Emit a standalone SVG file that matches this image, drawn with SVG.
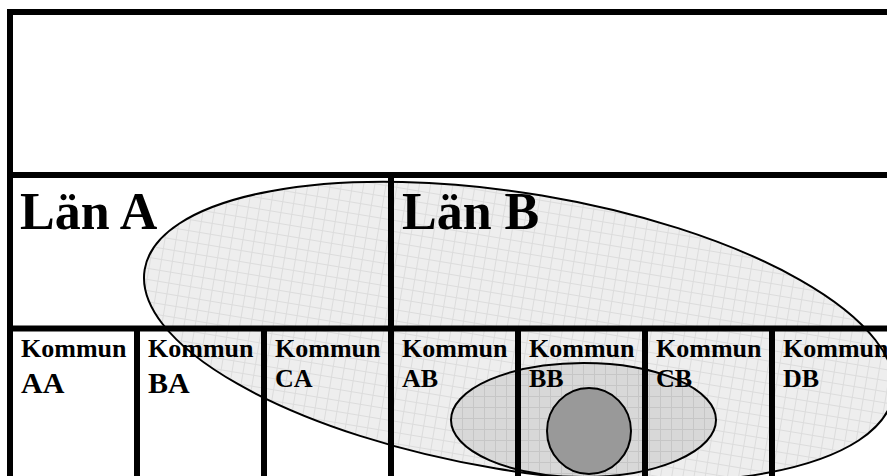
<svg xmlns="http://www.w3.org/2000/svg" width="887" height="476" viewBox="0 0 887 476">
<style>
.ln{stroke:#000;stroke-width:6;fill:none}
.big{font-family:"Liberation Serif","Times New Roman",serif;font-weight:bold;font-size:52px;fill:#000}
.k{font-family:"Liberation Serif","Times New Roman",serif;font-weight:bold;font-size:26px;fill:#000}
.c{font-family:"Liberation Serif","Times New Roman",serif;font-weight:bold;font-size:30px;fill:#000}
.ell{stroke:#000;stroke-width:2}
</style>
<defs>
<pattern id="gridL" patternUnits="userSpaceOnUse" width="11" height="11">
<rect width="11" height="11" fill="#eeeeee"/>
<path d="M0 0.5H11M0.5 0V11" stroke="#dcdcdc" stroke-width="1"/>
</pattern>
<pattern id="gridM" patternUnits="userSpaceOnUse" width="11" height="11">
<rect width="11" height="11" fill="#d8d8d8"/>
<path d="M0 0.5H11M0.5 0V11" stroke="#c6c6c6" stroke-width="1"/>
</pattern>
</defs>
<rect width="887" height="476" fill="#fff"/>
<g id="regions">
<ellipse id="region-large" class="ell" cx="519" cy="332" rx="379.5" ry="138.4" transform="rotate(9.5 519 332)" fill="url(#gridL)"/>
<ellipse id="region-medium" class="ell" cx="583.5" cy="420" rx="132.5" ry="57" fill="url(#gridM)"/>
<ellipse id="region-small" class="ell" cx="589" cy="431" rx="42" ry="43" fill="#999999"/>
</g>
<g id="connectors">
<path class="ln" d="M7 12H887M10 9V476M7 175H887M7 328.5H887M391 172V476M137 328V476M264 328V476M518 328V476M645 328V476M772 328V476"/>
</g>
<g id="lan-a"><text class="big" x="20" y="229">Län A</text></g>
<g id="lan-b"><text class="big" x="402" y="229">Län B</text></g>
<g id="kommun-aa"><text class="k" x="21" y="356.5">Kommun</text><text class="c" x="21" y="393">AA</text></g>
<g id="kommun-ba"><text class="k" x="148" y="356.5">Kommun</text><text class="c" x="148" y="393">BA</text></g>
<g id="kommun-ca"><text class="k" x="275" y="356.5">Kommun</text><text class="k" x="275" y="387">CA</text></g>
<g id="kommun-ab"><text class="k" x="402" y="356.5">Kommun</text><text class="k" x="402" y="387">AB</text></g>
<g id="kommun-bb"><text class="k" x="529" y="356.5">Kommun</text><text class="k" x="529" y="387">BB</text></g>
<g id="kommun-cb"><text class="k" x="656" y="356.5">Kommun</text><text class="k" x="656" y="387">CB</text></g>
<g id="kommun-db"><text class="k" x="783" y="356.5">Kommun</text><text class="k" x="783" y="387">DB</text></g>
</svg>
